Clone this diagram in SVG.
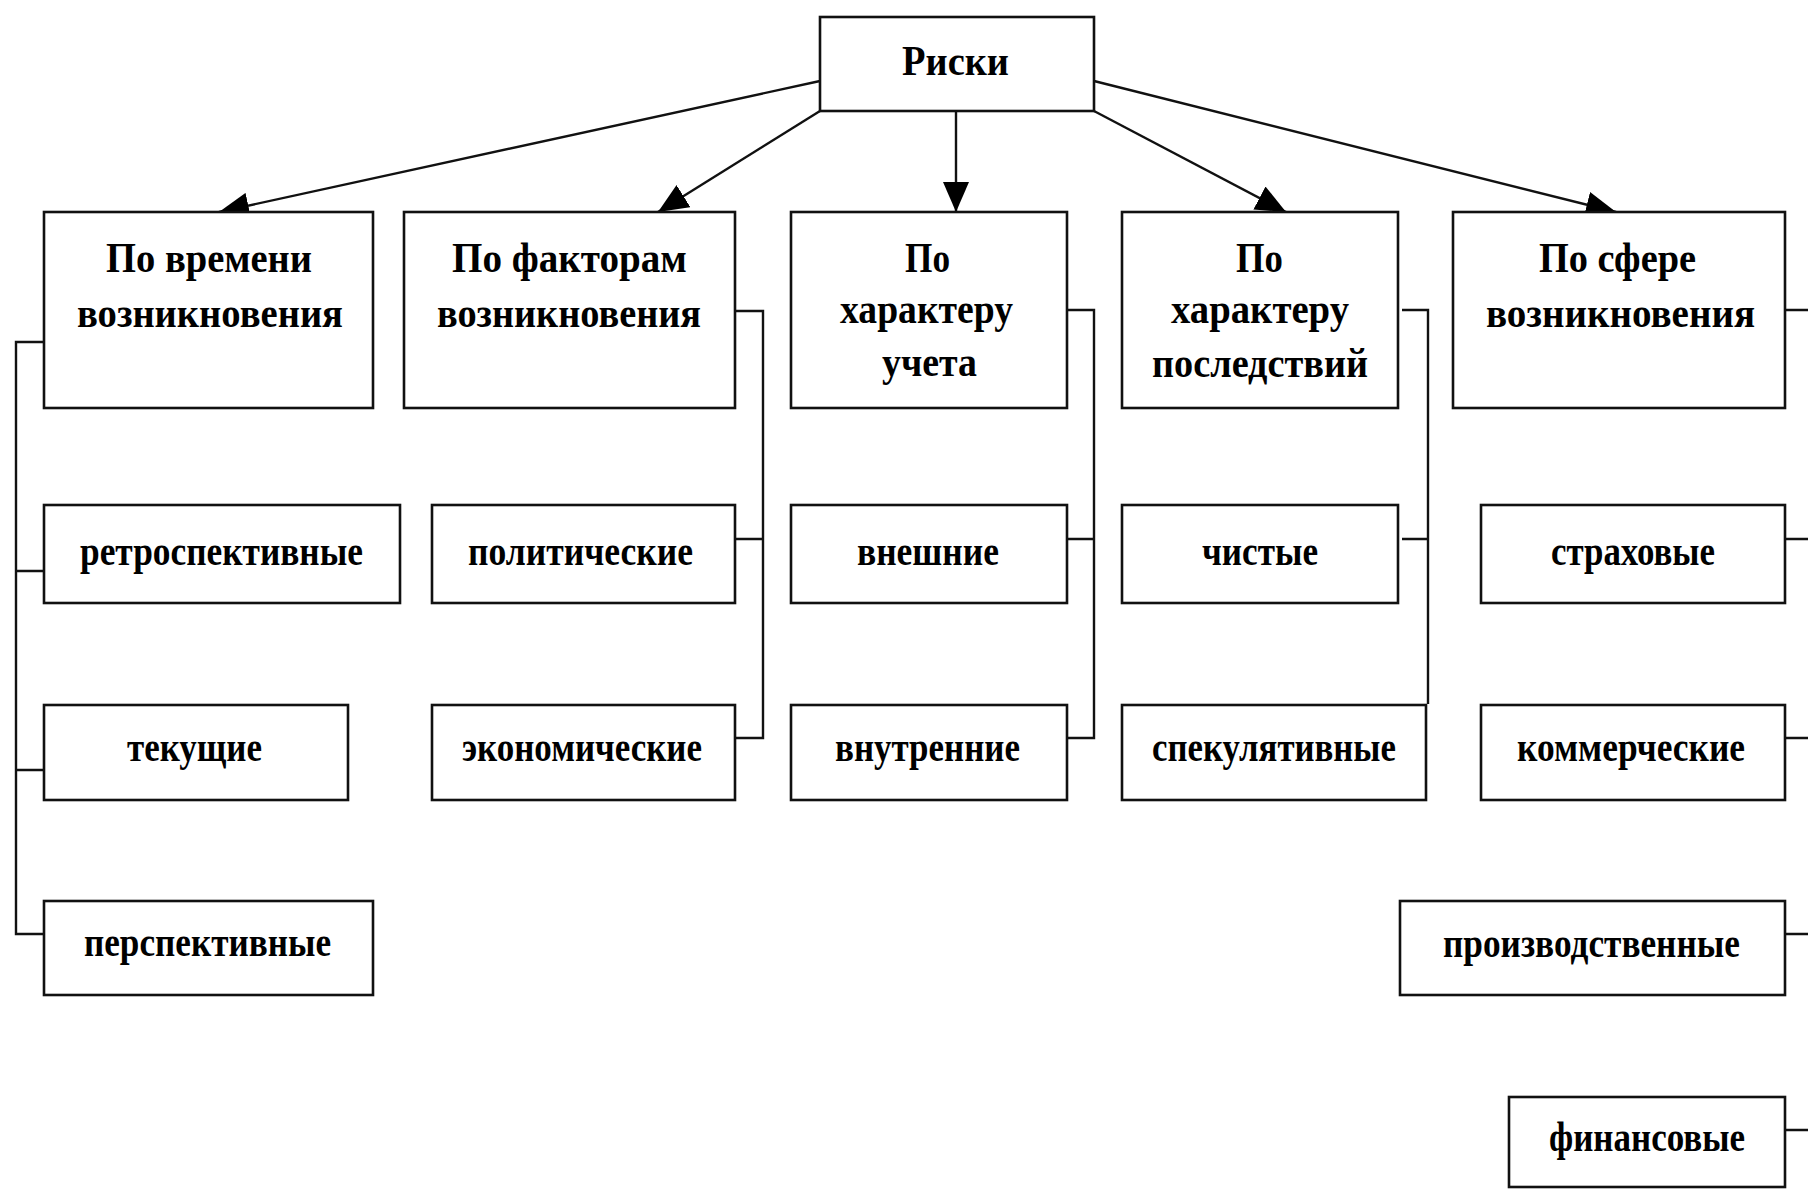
<svg xmlns="http://www.w3.org/2000/svg" width="1808" height="1189" viewBox="0 0 1808 1189">
<style>
.box{fill:#fff;stroke:#111;stroke-width:2.6}
.ln{fill:none;stroke:#111;stroke-width:2.4}
.t{font-family:"Liberation Serif","Times New Roman",serif;font-weight:bold;font-size:42px;fill:#000;text-anchor:start}
</style>
<defs>
<marker id="ah" viewBox="0 0 30 26" refX="30" refY="13" markerWidth="30" markerHeight="26" markerUnits="userSpaceOnUse" orient="auto">
<path d="M0,0 L30,13 L0,26 Z" fill="#000"/>
</marker>
</defs>
<rect width="1808" height="1189" fill="#fff"/>
<g id="connectors">
<line class="ln" x1="820" y1="81" x2="219" y2="212" marker-end="url(#ah)"/>
<line class="ln" x1="820" y1="111" x2="658" y2="212" marker-end="url(#ah)"/>
<line class="ln" x1="956" y1="111" x2="956" y2="212" marker-end="url(#ah)"/>
<line class="ln" x1="1094" y1="111" x2="1286" y2="212" marker-end="url(#ah)"/>
<line class="ln" x1="1094" y1="81" x2="1616" y2="212" marker-end="url(#ah)"/>
<path class="ln" d="M44,342 H16 V934 H44 M16,571 H44 M16,770 H44"/>
<path class="ln" d="M735,311 H763 V738 H735 M735,539 H763"/>
<path class="ln" d="M1067,310 H1094 V738 H1067 M1067,539 H1094"/>
<path class="ln" d="M1402,310 H1428 V704 M1402,539 H1428"/>
<path class="ln" d="M1785,310 H1808 M1785,539 H1808 M1785,738 H1808 M1785,934 H1808 M1785,1130 H1808"/>
</g>
<g id="n-riski"><rect class="box" x="820" y="17" width="274" height="94"/><text class="t" x="902" y="75" font-size="45" textLength="107" lengthAdjust="spacingAndGlyphs">Риски</text></g>
<g id="n-time"><rect class="box" x="44" y="212" width="329" height="196"/><text class="t" x="106" y="272" textLength="206" lengthAdjust="spacingAndGlyphs">По времени</text><text class="t" x="77" y="327" textLength="266" lengthAdjust="spacingAndGlyphs">возникновения</text></g>
<g id="n-factors"><rect class="box" x="404" y="212" width="331" height="196"/><text class="t" x="452" y="272" textLength="235" lengthAdjust="spacingAndGlyphs">По факторам</text><text class="t" x="437" y="327" textLength="264" lengthAdjust="spacingAndGlyphs">возникновения</text></g>
<g id="n-uchet"><rect class="box" x="791" y="212" width="276" height="196"/><text class="t" x="905" y="272" textLength="45" lengthAdjust="spacingAndGlyphs">По</text><text class="t" x="840" y="323" textLength="173" lengthAdjust="spacingAndGlyphs">характеру</text><text class="t" x="882" y="376" textLength="95" lengthAdjust="spacingAndGlyphs">учета</text></g>
<g id="n-posl"><rect class="box" x="1122" y="212" width="276" height="196"/><text class="t" x="1236" y="272" textLength="47" lengthAdjust="spacingAndGlyphs">По</text><text class="t" x="1171" y="323" textLength="178" lengthAdjust="spacingAndGlyphs">характеру</text><text class="t" x="1152" y="377" textLength="216" lengthAdjust="spacingAndGlyphs">последствий</text></g>
<g id="n-sfera"><rect class="box" x="1453" y="212" width="332" height="196"/><text class="t" x="1539" y="272" textLength="157" lengthAdjust="spacingAndGlyphs">По сфере</text><text class="t" x="1486" y="327" textLength="269" lengthAdjust="spacingAndGlyphs">возникновения</text></g>
<g id="n-retro"><rect class="box" x="44" y="505" width="356" height="98"/><text class="t" x="80" y="565" textLength="283" lengthAdjust="spacingAndGlyphs">ретроспективные</text></g>
<g id="n-polit"><rect class="box" x="432" y="505" width="303" height="98"/><text class="t" x="468" y="565" textLength="225" lengthAdjust="spacingAndGlyphs">политические</text></g>
<g id="n-vnesh"><rect class="box" x="791" y="505" width="276" height="98"/><text class="t" x="857" y="565" textLength="142" lengthAdjust="spacingAndGlyphs">внешние</text></g>
<g id="n-chist"><rect class="box" x="1122" y="505" width="276" height="98"/><text class="t" x="1202" y="565" textLength="116" lengthAdjust="spacingAndGlyphs">чистые</text></g>
<g id="n-strah"><rect class="box" x="1481" y="505" width="304" height="98"/><text class="t" x="1551" y="565" textLength="164" lengthAdjust="spacingAndGlyphs">страховые</text></g>
<g id="n-tek"><rect class="box" x="44" y="705" width="304" height="95"/><text class="t" x="127" y="761" textLength="135" lengthAdjust="spacingAndGlyphs">текущие</text></g>
<g id="n-econ"><rect class="box" x="432" y="705" width="303" height="95"/><text class="t" x="462" y="761" textLength="240" lengthAdjust="spacingAndGlyphs">экономические</text></g>
<g id="n-vnutr"><rect class="box" x="791" y="705" width="276" height="95"/><text class="t" x="835" y="761" textLength="185" lengthAdjust="spacingAndGlyphs">внутренние</text></g>
<g id="n-spek"><rect class="box" x="1122" y="705" width="304" height="95"/><text class="t" x="1152" y="761" textLength="244" lengthAdjust="spacingAndGlyphs">спекулятивные</text></g>
<g id="n-komm"><rect class="box" x="1481" y="705" width="304" height="95"/><text class="t" x="1517" y="761" textLength="228" lengthAdjust="spacingAndGlyphs">коммерческие</text></g>
<g id="n-persp"><rect class="box" x="44" y="901" width="329" height="94"/><text class="t" x="84" y="956" textLength="247" lengthAdjust="spacingAndGlyphs">перспективные</text></g>
<g id="n-proizv"><rect class="box" x="1400" y="901" width="385" height="94"/><text class="t" x="1443" y="957" textLength="297" lengthAdjust="spacingAndGlyphs">производственные</text></g>
<g id="n-fin"><rect class="box" x="1509" y="1097" width="276" height="90"/><text class="t" x="1549" y="1151" textLength="196" lengthAdjust="spacingAndGlyphs">финансовые</text></g>
</svg>
